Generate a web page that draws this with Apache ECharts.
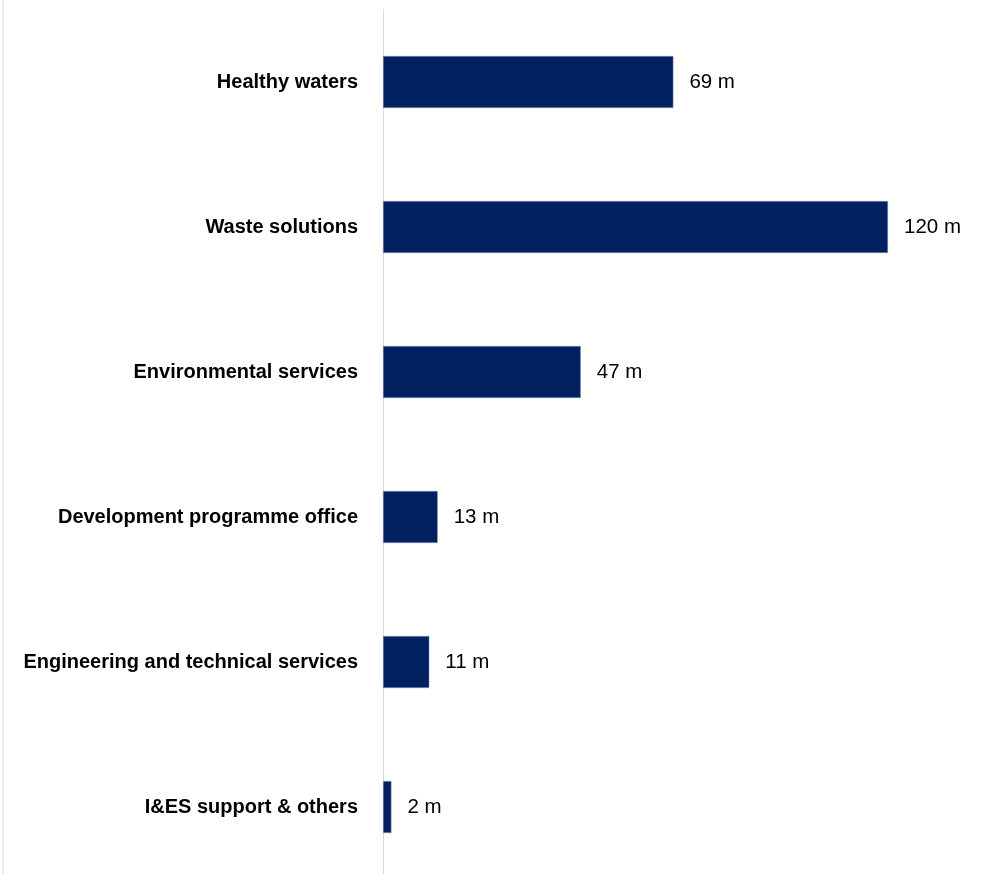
<!DOCTYPE html>
<html>
<head>
<meta charset="utf-8">
<script src="https://cdn.jsdelivr.net/npm/echarts@6/dist/echarts.min.js"></script>
<style>
html,body{margin:0;padding:0;background:#fff;overflow:hidden;width:987px;height:874px;}
#chart{width:987px;height:880px;}
</style>
</head>
<body>
<div id="chart"></div>
<script>
const categories = [
  "Healthy waters",
  "Waste solutions",
  "Environmental services",
  "Development programme office",
  "Engineering and technical services",
  "I&ES support & others"
];
const values = [69, 120, 47, 13, 11, 2];
const unitSuffix = " m";

const chart = echarts.init(document.getElementById('chart'), null, {renderer: 'canvas'});
chart.setOption({
  animation: false,
  backgroundColor: '#ffffff',
  grid: {left: 383, right: 99, top: 9.5, bottom: 0.5, containLabel: false},
  xAxis: {
    type: 'value', min: 0, max: 120,
    show: false
  },
  yAxis: {
    type: 'category', data: categories, inverse: true,
    axisLine: {show: true, lineStyle: {color: '#d9d9d9', width: 1}},
    axisTick: {show: false},
    axisLabel: {
      color: '#000000', fontWeight: 'bold', fontSize: 20,
      fontFamily: 'Liberation Sans, Arial, sans-serif', margin: 25
    }
  },
  series: [{
    type: 'bar', data: values, barWidth: 52,
    itemStyle: {color: '#002060', borderColor: '#8ea0c8', borderWidth: 0.5},
    label: {
      show: true, position: 'right', distance: 16,
      color: '#000000', fontSize: 20.5, fontFamily: 'Liberation Sans, Arial, sans-serif',
      formatter: p => p.value + unitSuffix
    }
  }],
  graphic: [{
    type: 'line', shape: {x1: 3, y1: 0, x2: 3, y2: 880},
    style: {stroke: '#d9d9d9', lineWidth: 1}
  }]
});
</script>
</body>
</html>
